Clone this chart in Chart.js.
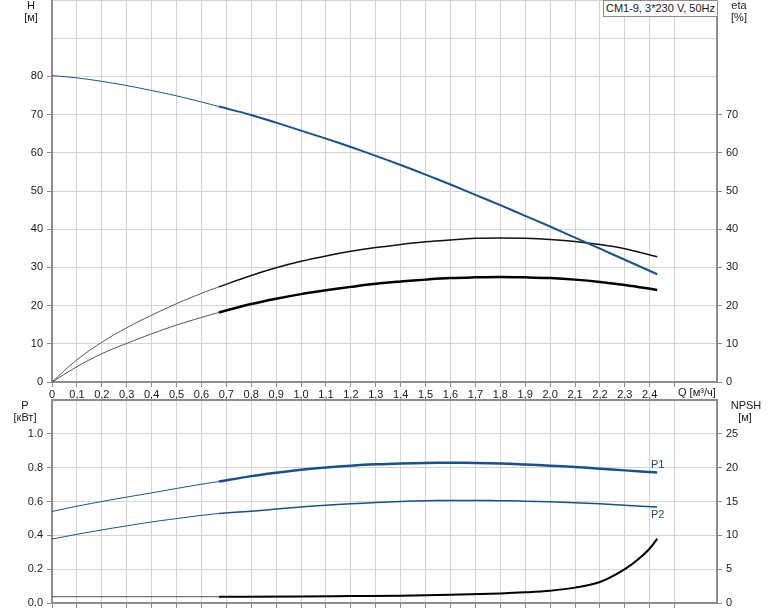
<!DOCTYPE html>
<html>
<head>
<meta charset="utf-8">
<script src="https://cdn.jsdelivr.net/npm/chart.js@4.4.1/dist/chart.umd.min.js"></script>
<style>
  body { margin: 0; background: #fff; }
  #wrap { position: relative; width: 774px; height: 611px; font-family: 'Liberation Sans', Arial, sans-serif; font-size: 11px; color: #1a1a1a; }
  .lbl { position: absolute; white-space: nowrap; line-height: 13px; }
  .c { transform: translateX(-50%); }
  #topBox { position: absolute; left: 0; top: 0; }
  #botBox { position: absolute; left: 0; top: 396px; }
  #title { position: absolute; right: 56px; top: 0; height: 15px; padding: 0 2px; border: 1px solid #8c8c8c; background: #fff; white-space: nowrap; line-height: 15px; }
</style>
</head>
<body>
<div id="wrap">
  <div id="topBox"><canvas id="chartTop" width="774" height="401"></canvas></div>
  <div id="botBox"><canvas id="chartBottom" width="774" height="215"></canvas></div>

  <div id="title">CM1-9, 3*230 V, 50Hz</div>
  <div class="lbl c" style="left:31px;top:-1px">H</div>
  <div class="lbl c" style="left:31px;top:11px">[м]</div>
  <div class="lbl c" style="left:739px;top:-1px">eta</div>
  <div class="lbl c" style="left:739px;top:11px">[%]</div>
  <div class="lbl" style="left:678px;top:386px">Q [м³/ч]</div>
  <div class="lbl c" style="left:25px;top:399px">P</div>
  <div class="lbl c" style="left:25px;top:411px">[кВт]</div>
  <div class="lbl c" style="left:746px;top:399px">NPSH</div>
  <div class="lbl c" style="left:745px;top:411px">[м]</div>
  <div class="lbl" style="left:651px;top:458px;color:#1e4a80">P1</div>
  <div class="lbl" style="left:651px;top:508px;color:#1e4a80">P2</div>
</div>

<script>
// flow points, m3/h (0.67 = start of the working range)
const flow = [0, 0.1, 0.2, 0.3, 0.4, 0.5, 0.6, 0.67, 0.8, 0.9, 1.0, 1.1, 1.2, 1.3, 1.4, 1.5, 1.6, 1.7, 1.8, 1.9, 2.0, 2.1, 2.2, 2.3, 2.43];
const head = [80.2, 79.6, 78.7, 77.6, 76.3, 74.9, 73.3, 72.1, 69.9, 67.9, 65.8, 63.7, 61.5, 59.2, 56.8, 54.3, 51.7, 49.0, 46.3, 43.5, 40.7, 37.8, 34.9, 32.0, 28.2];
const etaPump = [0, 5.8, 10.4, 14.2, 17.5, 20.5, 23.2, 24.9, 27.9, 29.9, 31.6, 33.0, 34.2, 35.2, 36.0, 36.7, 37.2, 37.6, 37.7, 37.6, 37.3, 36.8, 36.0, 34.9, 32.8];
const etaTotal = [0, 4.0, 7.4, 10.1, 12.6, 14.9, 16.9, 18.2, 20.4, 21.8, 23.0, 24.0, 24.9, 25.7, 26.3, 26.8, 27.2, 27.4, 27.5, 27.4, 27.2, 26.8, 26.2, 25.4, 24.1];
const p1 = [0.541, 0.572, 0.600, 0.626, 0.651, 0.677, 0.702, 0.718, 0.750, 0.770, 0.787, 0.801, 0.812, 0.820, 0.825, 0.828, 0.829, 0.828, 0.825, 0.819, 0.812, 0.804, 0.794, 0.784, 0.771];
const p2 = [0.378, 0.406, 0.432, 0.456, 0.479, 0.499, 0.518, 0.529, 0.543, 0.555, 0.567, 0.578, 0.586, 0.594, 0.600, 0.604, 0.606, 0.606, 0.605, 0.602, 0.598, 0.592, 0.586, 0.578, 0.567];
const npshFlow = [0, 0.67, 1.0, 1.2, 1.4, 1.6, 1.8, 1.9, 2.0, 2.1, 2.2, 2.3, 2.35, 2.4, 2.43];
const npsh = [0.93, 0.93, 0.95, 1.02, 1.08, 1.22, 1.42, 1.58, 1.82, 2.27, 3.1, 5.0, 6.35, 8.05, 9.5];

const qStart = 0.67;   // thin line before, thick line after
const qMax = 2.67;

const blue = '#17528f';
const gridCol = '#d4d4d4';
const axisCol = '#8c8c8c';
const font = { family: "'Liberation Sans', Arial, sans-serif", size: 11 };

function pts(xs, ys, from, to) {
  const out = [];
  xs.forEach((x, i) => {
    if (x >= from - 1e-9 && x <= to + 1e-9) out.push({ x: x, y: ys[i] });
  });
  return out;
}

function line(data, color, width, axis, mono) {
  return {
    data: data,
    borderColor: color,
    borderWidth: width,
    pointRadius: 0,
    fill: false,
    tension: 0.4,
    cubicInterpolationMode: mono ? 'monotone' : 'default',
    yAxisID: axis,
  };
}

function tickCol(limit) {
  return (ctx) => (ctx.tick && ctx.tick.value > limit + 1e-6 ? 'rgba(0,0,0,0)' : axisCol);
}

// no label overhang padding, the plot area must sit exactly
function noPad(s) {
  s.paddingTop = 0;
  s.paddingBottom = 0;
  s.paddingLeft = 0;
  s.paddingRight = 0;
}

function xScale(showLabels, h) {
  return {
    type: 'linear',
    min: 0,
    max: qMax,
    ticks: {
      display: showLabels,
      stepSize: 0.1,
      autoSkip: false,
      maxRotation: 0,
      padding: 1,
      color: '#1a1a1a',
      font: font,
      callback: (v) => (v > 2.45 ? '' : v === 0 ? '0' : v.toFixed(1).replace('.', ',')),
    },
    grid: { color: gridCol, tickColor: tickCol(2.65), tickLength: 5 },
    border: { color: axisCol, width: 2 },
    afterFit: (s) => { s.height = h; noPad(s); },
  };
}

function yScale(pos, max, step, lastLabel, fmt, w, onArea) {
  return {
    type: 'linear',
    position: pos,
    min: 0,
    max: max,
    ticks: {
      stepSize: step,
      padding: 4,
      color: '#1a1a1a',
      font: font,
      callback: (v) => (v > lastLabel + 1e-6 ? '' : fmt(v)),
    },
    grid: { color: gridCol, drawOnChartArea: onArea, tickColor: tickCol(lastLabel), tickLength: 5 },
    border: { color: axisCol, width: 2 },
    afterFit: (s) => { s.width = w; noPad(s); },
  };
}

const common = {
  responsive: false,
  animation: false,
  layout: { autoPadding: false, padding: 0 },
  plugins: { legend: { display: false }, tooltip: { enabled: false } },
};

new Chart(document.getElementById('chartTop'), {
  type: 'line',
  data: {
    datasets: [
      line(pts(flow, head, 0, qStart), blue, 1, 'y'),
      line(pts(flow, head, qStart, 3), blue, 2, 'y'),
      line(pts(flow, etaPump, 0, qStart), '#555', 1, 'y2'),
      line(pts(flow, etaPump, qStart, 3), '#111', 1.5, 'y2'),
      line(pts(flow, etaTotal, 0, qStart), '#555', 1, 'y2'),
      line(pts(flow, etaTotal, qStart, 3), '#000', 2.5, 'y2'),
    ],
  },
  options: {
    ...common,
    scales: {
      x: xScale(true, 19),
      y: yScale('left', 100, 10, 80, (v) => v, 52, true),
      y2: yScale('right', 100, 10, 70, (v) => v, 57, false),
    },
  },
});

const bottomScales = {
  x: xScale(false, 8),
  xTop: {
    type: 'linear',
    position: 'top',
    min: 0,
    max: qMax,
    ticks: { display: false },
    grid: { display: false },
    border: { color: axisCol, width: 2 },
    afterFit: (s) => { s.height = 0; noPad(s); },
  },
  y: yScale('left', 1.2, 0.2, 1.0, (v) => v.toFixed(1), 52, true),
  y2: yScale('right', 30, 5, 25, (v) => v, 57, false),
};

new Chart(document.getElementById('chartBottom'), {
  type: 'line',
  data: {
    datasets: [
      line(pts(flow, p1, 0, qStart), blue, 1, 'y'),
      line(pts(flow, p1, qStart, 3), blue, 2.5, 'y'),
      line(pts(flow, p2, 0, qStart), blue, 1, 'y'),
      line(pts(flow, p2, qStart, 3), blue, 1.5, 'y'),
      line(pts(npshFlow, npsh, 0, qStart), '#555', 1, 'y2', true),
      line(pts(npshFlow, npsh, qStart, 3), '#000', 2, 'y2', true),
    ],
  },
  options: {
    ...common,
    layout: { autoPadding: false, padding: { top: 4 } },
    scales: bottomScales,
  },
});
</script>
</body>
</html>
